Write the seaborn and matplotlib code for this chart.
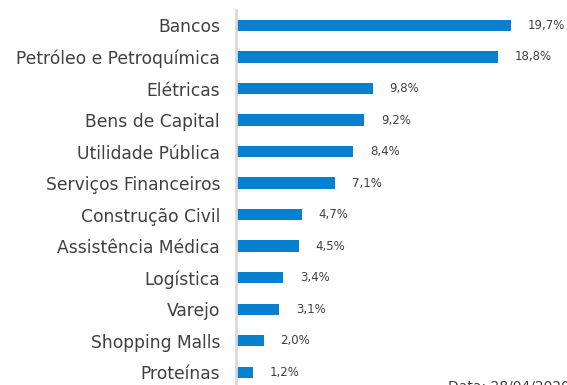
import matplotlib
matplotlib.use("Agg")
import matplotlib.pyplot as plt
import seaborn as sns
import pandas as pd

setores = [
    "Bancos", "Petróleo e Petroquímica", "Elétricas", "Bens de Capital",
    "Utilidade Pública", "Serviços Financeiros", "Construção Civil",
    "Assistência Médica", "Logística", "Varejo", "Shopping Malls", "Proteínas",
]
pesos = [19.7, 18.8, 9.8, 9.2, 8.4, 7.1, 4.7, 4.5, 3.4, 3.1, 2.0, 1.2]

df = pd.DataFrame({"setor": setores, "peso": pesos})

sns.set_theme(style="white")
plt.rcParams["font.family"] = ["DejaVu Sans"]

W, H = 567, 385
fig = plt.figure(figsize=(W / 100, H / 100), dpi=100)
ax = fig.add_axes([236 / W, 1 - 388 / H, (W - 236) / W, 378 / H])

sns.barplot(data=df, x="peso", y="setor", orient="h", color="#0780CF",
            saturation=1, width=0.36, linewidth=0, ax=ax)

ax.set_xlim(0, (W - 237) / 13.9)
ax.set_ylim(11.5, -0.49)
ax.set_xlabel("")
ax.set_ylabel("")
ax.set_xticks([])
for s in ["top", "right", "bottom"]:
    ax.spines[s].set_visible(False)
ax.spines["left"].set_color("#D9D9D9")
ax.spines["left"].set_linewidth(2)
ax.tick_params(axis="y", length=0, pad=11.5, labelsize=12.3, labelcolor="#404040")

for i, v in enumerate(pesos):
    ax.annotate(f"{v:.1f}%".replace(".", ","), xy=(v, i), xytext=(12, 0),
                textcoords="offset points", va="center", ha="left",
                fontsize=8.5, color="#404040")

fig.text(448 / W, 1 - 379 / H, "Data: 28/04/2020", fontsize=10,
         color="#404040", ha="left", va="top")

fig.savefig("out.png", dpi=100)
